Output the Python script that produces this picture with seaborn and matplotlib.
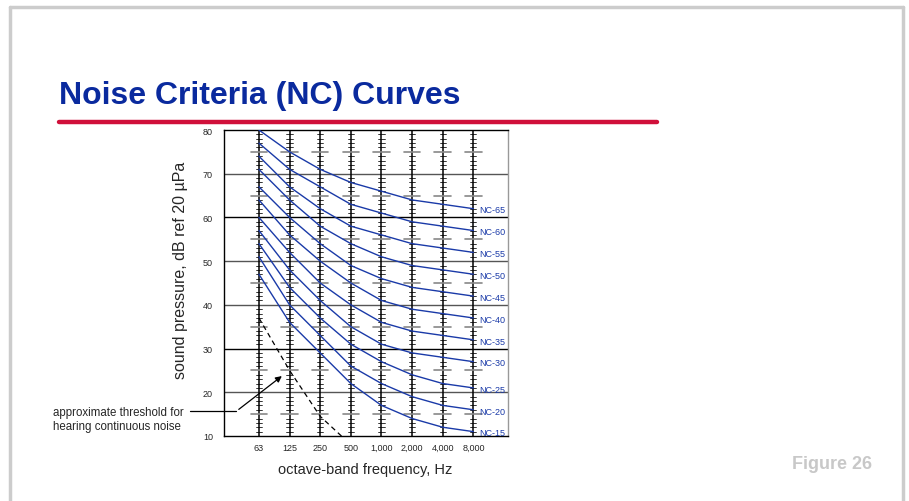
import numpy as np
import pandas as pd
import seaborn as sns
import matplotlib.pyplot as plt
from matplotlib import font_manager
from matplotlib.lines import Line2D

# data: NC curves (dB per octave band)
frekuensi = ['63', '125', '250', '500', '1,000', '2,000', '4,000', '8,000']
nc_nama = ['NC-15', 'NC-20', 'NC-25', 'NC-30', 'NC-35', 'NC-40',
           'NC-45', 'NC-50', 'NC-55', 'NC-60', 'NC-65']
nc_15 = [47, 36, 29, 22, 17, 14, 12, 11]
nc_20 = [51, 40, 33, 26, 22, 19, 17, 16]
nc_25 = [54, 44, 37, 31, 27, 24, 22, 21]
nc_30 = [57, 48, 41, 35, 31, 29, 28, 27]
nc_35 = [60, 52, 45, 40, 36, 34, 33, 32]
nc_40 = [64, 56, 50, 45, 41, 39, 38, 37]
nc_45 = [67, 60, 54, 49, 46, 44, 43, 42]
nc_50 = [71, 64, 58, 54, 51, 49, 48, 47]
nc_55 = [74, 67, 62, 58, 56, 54, 53, 52]
nc_60 = [77, 71, 67, 63, 61, 59, 58, 57]
nc_65 = [80, 75, 71, 68, 66, 64, 63, 62]
nc_nilai = [nc_15, nc_20, nc_25, nc_30, nc_35, nc_40,
            nc_45, nc_50, nc_55, nc_60, nc_65]
# ambang dengar (garis putus-putus), titik terakhir terpotong sumbu
ambang = [37, 25, 14.5, 8]

sns.set_style("white")
nama_font = [f.name for f in font_manager.fontManager.ttflist]
if 'Liberation Sans Narrow' in nama_font:
    plt.rcParams['font.family'] = ['Liberation Sans Narrow', 'DejaVu Sans']
else:
    plt.rcParams['font.family'] = ['Liberation Sans', 'DejaVu Sans']

biru = '#1a3aa8'

rows = []
for nama, vals in zip(nc_nama, nc_nilai):
    for i, v in enumerate(vals):
        rows.append({'kurva': nama, 'idx': i, 'db': v})
df = pd.DataFrame(rows)
df_ambang = pd.DataFrame({'idx': range(len(ambang)), 'db': ambang})

fig = plt.figure(figsize=(9.09, 5.02), dpi=100)
ax = fig.add_axes([224 / 909, 1 - 437 / 502, 284 / 909, 306 / 502])

# gridlines 10 dB
for y in range(20, 80, 10):
    warna = 'black' if y in (30, 60) else '#555555'
    ax.axhline(y, color=warna, lw=1.0, zorder=1)

# kolom skala di setiap pita oktaf
for i in range(len(frekuensi)):
    ax.axvline(i, color='black', lw=1.1, zorder=1)
    for d in range(11, 80):
        if d % 10 == 0:
            continue
        if d % 5 == 0:
            ax.plot([i - 0.27, i + 0.27], [d, d], color='#888888', lw=1.2, zorder=1)
        else:
            ax.plot([i - 0.1, i + 0.1], [d, d], color='black', lw=0.55, zorder=1)

sns.lineplot(data=df, x='idx', y='db', hue='kurva',
             palette=[biru] * len(nc_nama), legend=False, lw=1.0, ax=ax, zorder=3)
sns.lineplot(data=df_ambang, x='idx', y='db', color='black', lw=0.9,
             linestyle=(0, (4, 3)), ax=ax, zorder=3)

for nama, vals in zip(nc_nama, nc_nilai):
    ax.text(7.2, vals[-1] - 0.3, nama, color=biru, fontsize=6.5,
            va='center', ha='left')

ax.set_xlim(-1.14, 8.13)
ax.set_ylim(10, 80)
ax.set_xticks(range(len(frekuensi)))
ax.set_xticklabels(frekuensi)
ax.set_yticks(range(10, 81, 10))
ax.tick_params(axis='both', labelsize=6.5, length=0)
ax.tick_params(axis='y', pad=8)
ax.tick_params(axis='x', pad=5)
for s in ['left', 'bottom', 'top']:
    ax.spines[s].set_color('black')
    ax.spines[s].set_linewidth(1.0)
ax.spines['right'].set_color('#999999')
ax.spines['right'].set_linewidth(1.0)

ax.set_xlabel('octave-band frequency, Hz', fontsize=10.5)
ax.set_ylabel('sound pressure, dB ref 20 \u00b5Pa', fontsize=11.5)
ax.xaxis.set_label_coords(0.496, -0.085)
ax.yaxis.set_label_coords(-0.125, 0.545)

# anotasi ambang
ax.annotate('', xy=(0.82, 24.1), xytext=(-0.73, 15.7),
            arrowprops=dict(arrowstyle='-|>', color='black', lw=0.9,
                            mutation_scale=9), annotation_clip=False)
fig.add_artist(Line2D([190 / 909, 236 / 909], [1 - 411.7 / 502, 1 - 411.7 / 502],
                      color='black', lw=0.9))
fig.text(53 / 909, 1 - 420 / 502, 'approximate threshold for\nhearing continuous noise',
         fontsize=8.3, va='center', ha='left', linespacing=1.2)

# judul slide
fig.text(59 / 909, 1 - 96 / 502, 'Noise Criteria (NC) Curves', fontsize=23,
         fontweight='bold', color='#0a2a9e', va='center', ha='left')
fig.add_artist(Line2D([59 / 909, 657 / 909], [1 - 123 / 502, 1 - 123 / 502],
                      color='#d0103a', lw=3.2))
fig.text(872 / 909, 1 - 465 / 502, 'Figure 26', fontsize=13, fontweight='bold',
         color='#c8c8c8', va='center', ha='right')

# bingkai slide
for xs, ys in [([10, 903], [8, 8]), ([10, 10], [8, 502]), ([903, 903], [8, 502])]:
    fig.add_artist(Line2D([x / 909 for x in xs], [1 - y / 502 for y in ys],
                          color='#cccccc', lw=2.5))

fig.savefig('out.png', dpi=100)
